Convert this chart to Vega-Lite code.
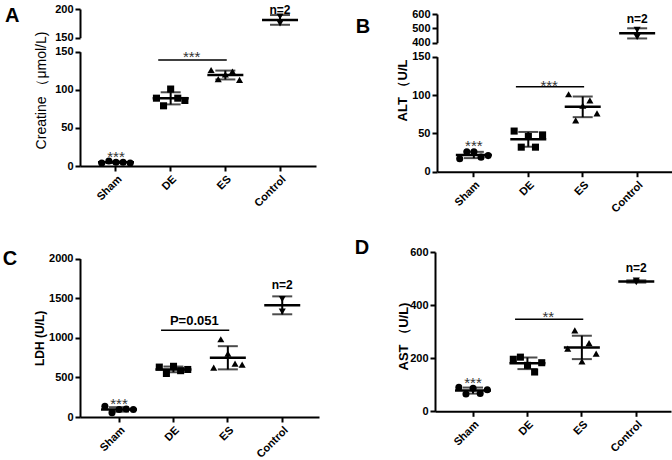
{
"$schema": "https://vega.github.io/schema/vega-lite/v6.json",
"padding": {"left": 2, "top": 3, "right": 0, "bottom": 0},
"datasets": {
"pts": [
{"panel":"A","group":"Sham","value":4},{"panel":"A","group":"Sham","value":6.5},{"panel":"A","group":"Sham","value":5},{"panel":"A","group":"Sham","value":5},{"panel":"A","group":"Sham","value":4},
{"panel":"A","group":"DE","value":89},{"panel":"A","group":"DE","value":79},{"panel":"A","group":"DE","value":101},{"panel":"A","group":"DE","value":89},{"panel":"A","group":"DE","value":86},
{"panel":"A","group":"ES","value":126},{"panel":"A","group":"ES","value":114},{"panel":"A","group":"ES","value":120},{"panel":"A","group":"ES","value":124},{"panel":"A","group":"ES","value":113},
{"panel":"A","group":"Control","value":187},{"panel":"A","group":"Control","value":175},
{"panel":"B","group":"Sham","value":17},{"panel":"B","group":"Sham","value":26},{"panel":"B","group":"Sham","value":26},{"panel":"B","group":"Sham","value":19},{"panel":"B","group":"Sham","value":21},
{"panel":"B","group":"DE","value":53},{"panel":"B","group":"DE","value":32},{"panel":"B","group":"DE","value":46},{"panel":"B","group":"DE","value":32},{"panel":"B","group":"DE","value":48},
{"panel":"B","group":"ES","value":101},{"panel":"B","group":"ES","value":67},{"panel":"B","group":"ES","value":86},{"panel":"B","group":"ES","value":93},{"panel":"B","group":"ES","value":76},
{"panel":"B","group":"Control","value":490},{"panel":"B","group":"Control","value":440},
{"panel":"C","group":"Sham","value":135},{"panel":"C","group":"Sham","value":55},{"panel":"C","group":"Sham","value":95},{"panel":"C","group":"Sham","value":100},{"panel":"C","group":"Sham","value":95},
{"panel":"C","group":"DE","value":630},{"panel":"C","group":"DE","value":550},{"panel":"C","group":"DE","value":640},{"panel":"C","group":"DE","value":585},{"panel":"C","group":"DE","value":600},
{"panel":"C","group":"ES","value":623},{"panel":"C","group":"ES","value":981},{"panel":"C","group":"ES","value":800},{"panel":"C","group":"ES","value":674},{"panel":"C","group":"ES","value":661},
{"panel":"C","group":"Control","value":1490},{"panel":"C","group":"Control","value":1330},
{"panel":"D","group":"Sham","value":90},{"panel":"D","group":"Sham","value":65},{"panel":"D","group":"Sham","value":87},{"panel":"D","group":"Sham","value":67},{"panel":"D","group":"Sham","value":81},
{"panel":"D","group":"DE","value":196},{"panel":"D","group":"DE","value":204},{"panel":"D","group":"DE","value":173},{"panel":"D","group":"DE","value":148},{"panel":"D","group":"DE","value":183},
{"panel":"D","group":"ES","value":236},{"panel":"D","group":"ES","value":305},{"panel":"D","group":"ES","value":188},{"panel":"D","group":"ES","value":257},{"panel":"D","group":"ES","value":217},
{"panel":"D","group":"Control","value":486},{"panel":"D","group":"Control","value":492}
],
"ann": [
{"panel":"A","kind":"sham","x1":"Sham","y":11.3,"label":"***"},
{"panel":"A","kind":"sig","x1":"DE","x2":"ES","y":139,"ty":142.5,"label":"***"},
{"panel":"A","kind":"n","x1":"Control","y":199,"label":"n=2"},
{"panel":"B","kind":"sham","x1":"Sham","y":33.8,"label":"***"},
{"panel":"B","kind":"sig","x1":"DE","x2":"ES","y":110.9,"ty":111.3,"label":"***"},
{"panel":"B","kind":"n","x1":"Control","y":567,"label":"n=2"},
{"panel":"C","kind":"sham","x1":"Sham","y":168,"label":"***"},
{"panel":"C","kind":"sig","x1":"DE","x2":"ES","y":1095,"ty":1212,"label":"P=0.051"},
{"panel":"C","kind":"n","x1":"Control","y":1667,"label":"n=2"},
{"panel":"D","kind":"sham","x1":"Sham","y":107.6,"label":"***"},
{"panel":"D","kind":"sig","x1":"DE","x2":"ES","y":346.5,"ty":356.6,"label":"**"},
{"panel":"D","kind":"n","x1":"Control","y":540,"label":"n=2"}
]
},
"spacing": 23,
"vconcat": [
{"hconcat": [
{
"width": 236, "height": 157,
"title": {"text": "A", "offset": -23},
"resolve": {"scale": {"y": "independent"}, "axis": {"y": "independent"}},
"layer": [
{"layer": [
{"data": {"name": "pts"}, "transform": [{"filter": "datum.panel==='A' && datum.group!=='Control'"}, {"window": [{"op": "row_number", "as": "rank"}], "groupby": ["group"]}],
 "mark": {"type": "point", "filled": true, "opacity": 1, "color": "black", "size": 50},
 "encoding": {
  "x": {"field": "group", "type": "nominal", "scale": {"type":"band","domain":["Sham","DE","ES","Control"],"paddingInner":0.35,"paddingOuter":0.333,"align":0.5}, "axis": {"title": null}},
  "xOffset": {"field": "rank", "type": "ordinal", "scale": {"domain": [1,2,3,4,5]}},
  "y": {"field": "value", "type": "quantitative", "title": "Creatine （μmol/L)", "scale": {"domain": [0,150], "range": [157,42.7], "nice": false, "zero": false}, "axis": {"orient": "left", "values": [0,50,100,150], "titleFontWeight": "normal", "titleFontSize": 14, "titleX": -31.5, "titleY": 81}},
  "shape": {"field": "group", "type": "nominal", "scale": {"domain": ["Sham","DE","ES","Control"], "range": ["circle","square","triangle-up","triangle-down"]}, "legend": null}}},
{"data": {"name": "pts"}, "transform": [{"filter": "datum.panel==='A' && datum.group!=='Control'"}],
 "mark": {"type": "errorbar", "extent": "stdev", "ticks": {"size": 20, "thickness": 2, "color": "black"}, "rule": {"strokeWidth": 2, "color": "black"}},
 "encoding": {"x": {"field": "group", "type": "nominal", "scale": {"type":"band","domain":["Sham","DE","ES","Control"],"paddingInner":0.35,"paddingOuter":0.333,"align":0.5}}, "y": {"field": "value", "type": "quantitative", "title": "Creatine （μmol/L)"}}},
{"data": {"name": "pts"}, "transform": [{"filter": "datum.panel==='A' && datum.group!=='Control'"}],
 "mark": {"type": "tick", "size": 36, "thickness": 2.5, "color": "black"},
 "encoding": {"x": {"field": "group", "type": "nominal", "scale": {"type":"band","domain":["Sham","DE","ES","Control"],"paddingInner":0.35,"paddingOuter":0.333,"align":0.5}}, "y": {"aggregate": "mean", "field": "value", "type": "quantitative", "title": "Creatine （μmol/L)"}}},
{"data": {"name": "ann"}, "transform": [{"filter": "datum.panel==='A' && datum.kind==='sham'"}],
 "mark": {"type": "text", "fontSize": 15, "color": "#333", "baseline": "middle"},
 "encoding": {"x": {"field": "x1", "type": "nominal", "scale": {"type":"band","domain":["Sham","DE","ES","Control"],"paddingInner":0.35,"paddingOuter":0.333,"align":0.5}}, "y": {"field": "y", "type": "quantitative", "title": "Creatine （μmol/L)"}, "text": {"field": "label"}}},
{"data": {"name": "ann"}, "transform": [{"filter": "datum.panel==='A' && datum.kind==='sig'"}],
 "mark": {"type": "rule", "color": "black", "strokeWidth": 1.5},
 "encoding": {"x": {"field": "x1", "type": "nominal", "bandPosition": 0.15, "scale": {"type":"band","domain":["Sham","DE","ES","Control"],"paddingInner":0.35,"paddingOuter":0.333,"align":0.5}}, "x2": {"field": "x2", "bandPosition": 0.54}, "y": {"field": "y", "type": "quantitative", "title": "Creatine （μmol/L)"}}},
{"data": {"name": "ann"}, "transform": [{"filter": "datum.panel==='A' && datum.kind==='sig'"}],
 "mark": {"type": "text", "fontSize": 15, "color": "#333", "baseline": "middle"},
 "encoding": {"x": {"field": "x1", "type": "nominal", "bandPosition": 1.09, "scale": {"type":"band","domain":["Sham","DE","ES","Control"],"paddingInner":0.35,"paddingOuter":0.333,"align":0.5}}, "y": {"field": "ty", "type": "quantitative", "title": "Creatine （μmol/L)"}, "text": {"field": "label"}}}
]},
{"layer": [
{"data": {"name": "pts"}, "transform": [{"filter": "datum.panel==='A' && datum.group==='Control'"}],
 "mark": {"type": "point", "filled": true, "opacity": 1, "color": "black", "size": 50},
 "encoding": {
  "x": {"field": "group", "type": "nominal", "scale": {"type":"band","domain":["Sham","DE","ES","Control"],"paddingInner":0.35,"paddingOuter":0.333,"align":0.5}},
  "y": {"field": "value", "type": "quantitative", "scale": {"domain": [150,200], "range": [28.7,0], "nice": false, "zero": false}, "axis": {"orient": "left", "values": [150,200], "title": null}},
  "shape": {"field": "group", "type": "nominal", "scale": {"domain": ["Sham","DE","ES","Control"], "range": ["circle","square","triangle-up","triangle-down"]}, "legend": null}}},
{"data": {"name": "pts"}, "transform": [{"filter": "datum.panel==='A' && datum.group==='Control'"}],
 "mark": {"type": "errorbar", "extent": "stdev", "ticks": {"size": 20, "thickness": 2, "color": "black"}, "rule": {"strokeWidth": 2, "color": "black"}},
 "encoding": {"x": {"field": "group", "type": "nominal", "scale": {"type":"band","domain":["Sham","DE","ES","Control"],"paddingInner":0.35,"paddingOuter":0.333,"align":0.5}}, "y": {"field": "value", "type": "quantitative"}}},
{"data": {"name": "pts"}, "transform": [{"filter": "datum.panel==='A' && datum.group==='Control'"}],
 "mark": {"type": "tick", "size": 36, "thickness": 2.5, "color": "black"},
 "encoding": {"x": {"field": "group", "type": "nominal", "scale": {"type":"band","domain":["Sham","DE","ES","Control"],"paddingInner":0.35,"paddingOuter":0.333,"align":0.5}}, "y": {"aggregate": "mean", "field": "value", "type": "quantitative"}}},
{"data": {"name": "ann"}, "transform": [{"filter": "datum.panel==='A' && datum.kind==='n'"}],
 "mark": {"type": "text", "fontSize": 12, "fontWeight": "bold", "color": "black", "baseline": "middle"},
 "encoding": {"x": {"field": "x1", "type": "nominal", "scale": {"type":"band","domain":["Sham","DE","ES","Control"],"paddingInner":0.35,"paddingOuter":0.333,"align":0.5}}, "y": {"field": "y", "type": "quantitative"}, "text": {"field": "label"}}}
]}
]
},
{
"width": 237, "height": 162.7,
"title": {"text": "B", "dx": -81.3, "offset": -29},
"resolve": {"scale": {"y": "independent"}, "axis": {"y": "independent"}},
"layer": [
{"layer": [
{"data": {"name": "pts"}, "transform": [{"filter": "datum.panel==='B' && datum.group!=='Control'"}, {"window": [{"op": "row_number", "as": "rank"}], "groupby": ["group"]}],
 "mark": {"type": "point", "filled": true, "opacity": 1, "color": "black", "size": 50},
 "encoding": {
  "x": {"field": "group", "type": "nominal", "scale": {"type":"band","domain":["Sham","DE","ES","Control"],"paddingInner":0.35,"paddingOuter":0.352,"align":0.5}, "axis": {"title": null}},
  "xOffset": {"field": "rank", "type": "ordinal", "scale": {"domain": [1,2,3,4,5]}},
  "y": {"field": "value", "type": "quantitative", "title": "ALT （U/L", "scale": {"domain": [0,150], "range": [162.7,47.7], "nice": false, "zero": false}, "axis": {"orient": "left", "values": [0,50,100,150], "titleX": -27.5, "titleY": 81}},
  "shape": {"field": "group", "type": "nominal", "scale": {"domain": ["Sham","DE","ES","Control"], "range": ["circle","square","triangle-up","triangle-down"]}, "legend": null}}},
{"data": {"name": "pts"}, "transform": [{"filter": "datum.panel==='B' && datum.group!=='Control'"}],
 "mark": {"type": "errorbar", "extent": "stdev", "ticks": {"size": 20, "thickness": 2, "color": "black"}, "rule": {"strokeWidth": 2, "color": "black"}},
 "encoding": {"x": {"field": "group", "type": "nominal", "scale": {"type":"band","domain":["Sham","DE","ES","Control"],"paddingInner":0.35,"paddingOuter":0.352,"align":0.5}}, "y": {"field": "value", "type": "quantitative", "title": "ALT （U/L"}}},
{"data": {"name": "pts"}, "transform": [{"filter": "datum.panel==='B' && datum.group!=='Control'"}],
 "mark": {"type": "tick", "size": 36, "thickness": 2.5, "color": "black"},
 "encoding": {"x": {"field": "group", "type": "nominal", "scale": {"type":"band","domain":["Sham","DE","ES","Control"],"paddingInner":0.35,"paddingOuter":0.352,"align":0.5}}, "y": {"aggregate": "mean", "field": "value", "type": "quantitative", "title": "ALT （U/L"}}},
{"data": {"name": "ann"}, "transform": [{"filter": "datum.panel==='B' && datum.kind==='sham'"}],
 "mark": {"type": "text", "fontSize": 15, "color": "#333", "baseline": "middle"},
 "encoding": {"x": {"field": "x1", "type": "nominal", "scale": {"type":"band","domain":["Sham","DE","ES","Control"],"paddingInner":0.35,"paddingOuter":0.352,"align":0.5}}, "y": {"field": "y", "type": "quantitative", "title": "ALT （U/L"}, "text": {"field": "label"}}},
{"data": {"name": "ann"}, "transform": [{"filter": "datum.panel==='B' && datum.kind==='sig'"}],
 "mark": {"type": "rule", "color": "black", "strokeWidth": 1.5},
 "encoding": {"x": {"field": "x1", "type": "nominal", "bandPosition": 0.15, "scale": {"type":"band","domain":["Sham","DE","ES","Control"],"paddingInner":0.35,"paddingOuter":0.352,"align":0.5}}, "x2": {"field": "x2", "bandPosition": 0.54}, "y": {"field": "y", "type": "quantitative", "title": "ALT （U/L"}}},
{"data": {"name": "ann"}, "transform": [{"filter": "datum.panel==='B' && datum.kind==='sig'"}],
 "mark": {"type": "text", "fontSize": 15, "color": "#333", "baseline": "middle"},
 "encoding": {"x": {"field": "x1", "type": "nominal", "bandPosition": 1.09, "scale": {"type":"band","domain":["Sham","DE","ES","Control"],"paddingInner":0.35,"paddingOuter":0.352,"align":0.5}}, "y": {"field": "ty", "type": "quantitative", "title": "ALT （U/L"}, "text": {"field": "label"}}}
]},
{"layer": [
{"data": {"name": "pts"}, "transform": [{"filter": "datum.panel==='B' && datum.group==='Control'"}],
 "mark": {"type": "point", "filled": true, "opacity": 1, "color": "black", "size": 50},
 "encoding": {
  "x": {"field": "group", "type": "nominal", "scale": {"type":"band","domain":["Sham","DE","ES","Control"],"paddingInner":0.35,"paddingOuter":0.352,"align":0.5}},
  "y": {"field": "value", "type": "quantitative", "scale": {"domain": [400,600], "range": [33.7,5], "nice": false, "zero": false}, "axis": {"orient": "left", "values": [400,500,600], "title": null}},
  "shape": {"field": "group", "type": "nominal", "scale": {"domain": ["Sham","DE","ES","Control"], "range": ["circle","square","triangle-up","triangle-down"]}, "legend": null}}},
{"data": {"name": "pts"}, "transform": [{"filter": "datum.panel==='B' && datum.group==='Control'"}],
 "mark": {"type": "errorbar", "extent": "stdev", "ticks": {"size": 20, "thickness": 2, "color": "black"}, "rule": {"strokeWidth": 2, "color": "black"}},
 "encoding": {"x": {"field": "group", "type": "nominal", "scale": {"type":"band","domain":["Sham","DE","ES","Control"],"paddingInner":0.35,"paddingOuter":0.352,"align":0.5}}, "y": {"field": "value", "type": "quantitative"}}},
{"data": {"name": "pts"}, "transform": [{"filter": "datum.panel==='B' && datum.group==='Control'"}],
 "mark": {"type": "tick", "size": 36, "thickness": 2.5, "color": "black"},
 "encoding": {"x": {"field": "group", "type": "nominal", "scale": {"type":"band","domain":["Sham","DE","ES","Control"],"paddingInner":0.35,"paddingOuter":0.352,"align":0.5}}, "y": {"aggregate": "mean", "field": "value", "type": "quantitative"}}},
{"data": {"name": "ann"}, "transform": [{"filter": "datum.panel==='B' && datum.kind==='n'"}],
 "mark": {"type": "text", "fontSize": 12, "fontWeight": "bold", "color": "black", "baseline": "middle"},
 "encoding": {"x": {"field": "x1", "type": "nominal", "scale": {"type":"band","domain":["Sham","DE","ES","Control"],"paddingInner":0.35,"paddingOuter":0.352,"align":0.5}}, "y": {"field": "y", "type": "quantitative"}, "text": {"field": "label"}}}
]}
]
}
], "spacing": 39},
{"hconcat": [
{
"width": 239, "height": 165,
"title": {"text": "C", "dx": -77.3, "offset": -16.7},
"layer": [
{"data": {"name": "pts"}, "transform": [{"filter": "datum.panel==='C' && datum.group!=='Control'"}, {"window": [{"op": "row_number", "as": "rank"}], "groupby": ["group"]}],
 "mark": {"type": "point", "filled": true, "opacity": 1, "color": "black", "size": 50},
 "encoding": {
  "x": {"field": "group", "type": "nominal", "scale": {"type":"band","domain":["Sham","DE","ES","Control"],"paddingInner":0.35,"paddingOuter":0.3715,"align":0.528}, "axis": {"title": null}},
  "xOffset": {"field": "rank", "type": "ordinal", "scale": {"domain": [1,2,3,4,5]}},
  "y": {"field": "value", "type": "quantitative", "title": "LDH (U/L)", "scale": {"domain": [0,2000], "range": [165,6.6], "nice": false, "zero": false}, "axis": {"orient": "left", "values": [0,500,1000,1500,2000], "format": "d", "titleFontSize": 12, "titleX": -34, "titleY": 85.8}},
  "shape": {"field": "group", "type": "nominal", "scale": {"domain": ["Sham","DE","ES","Control"], "range": ["circle","square","triangle-up","triangle-down"]}, "legend": null}}},
{"data": {"name": "pts"}, "transform": [{"filter": "datum.panel==='C' && datum.group==='Control'"}],
 "mark": {"type": "point", "filled": true, "opacity": 1, "color": "black", "size": 50},
 "encoding": {
  "x": {"field": "group", "type": "nominal", "scale": {"type":"band","domain":["Sham","DE","ES","Control"],"paddingInner":0.35,"paddingOuter":0.3715,"align":0.528}},
  "y": {"field": "value", "type": "quantitative", "title": "LDH (U/L)"},
  "shape": {"field": "group", "type": "nominal", "scale": {"domain": ["Sham","DE","ES","Control"], "range": ["circle","square","triangle-up","triangle-down"]}, "legend": null}}},
{"data": {"name": "pts"}, "transform": [{"filter": "datum.panel==='C'"}],
 "mark": {"type": "errorbar", "extent": "stdev", "ticks": {"size": 20, "thickness": 2, "color": "black"}, "rule": {"strokeWidth": 2, "color": "black"}},
 "encoding": {"x": {"field": "group", "type": "nominal", "scale": {"type":"band","domain":["Sham","DE","ES","Control"],"paddingInner":0.35,"paddingOuter":0.3715,"align":0.528}}, "y": {"field": "value", "type": "quantitative", "title": "LDH (U/L)"}}},
{"data": {"name": "pts"}, "transform": [{"filter": "datum.panel==='C'"}],
 "mark": {"type": "tick", "size": 36, "thickness": 2.5, "color": "black"},
 "encoding": {"x": {"field": "group", "type": "nominal", "scale": {"type":"band","domain":["Sham","DE","ES","Control"],"paddingInner":0.35,"paddingOuter":0.3715,"align":0.528}}, "y": {"aggregate": "mean", "field": "value", "type": "quantitative", "title": "LDH (U/L)"}}},
{"data": {"name": "ann"}, "transform": [{"filter": "datum.panel==='C' && datum.kind==='sham'"}],
 "mark": {"type": "text", "fontSize": 15, "color": "#333", "baseline": "middle"},
 "encoding": {"x": {"field": "x1", "type": "nominal", "scale": {"type":"band","domain":["Sham","DE","ES","Control"],"paddingInner":0.35,"paddingOuter":0.3715,"align":0.528}}, "y": {"field": "y", "type": "quantitative", "title": "LDH (U/L)"}, "text": {"field": "label"}}},
{"data": {"name": "ann"}, "transform": [{"filter": "datum.panel==='C' && datum.kind==='sig'"}],
 "mark": {"type": "rule", "color": "black", "strokeWidth": 1.5},
 "encoding": {"x": {"field": "x1", "type": "nominal", "bandPosition": 0.15, "scale": {"type":"band","domain":["Sham","DE","ES","Control"],"paddingInner":0.35,"paddingOuter":0.3715,"align":0.528}}, "x2": {"field": "x2", "bandPosition": 0.54}, "y": {"field": "y", "type": "quantitative", "title": "LDH (U/L)"}}},
{"data": {"name": "ann"}, "transform": [{"filter": "datum.panel==='C' && datum.kind==='sig'"}],
 "mark": {"type": "text", "fontSize": 13, "fontWeight": "bold", "color": "black", "baseline": "middle"},
 "encoding": {"x": {"field": "x1", "type": "nominal", "bandPosition": 1.09, "scale": {"type":"band","domain":["Sham","DE","ES","Control"],"paddingInner":0.35,"paddingOuter":0.3715,"align":0.528}}, "y": {"field": "ty", "type": "quantitative", "title": "LDH (U/L)"}, "text": {"field": "label"}}},
{"data": {"name": "ann"}, "transform": [{"filter": "datum.panel==='C' && datum.kind==='n'"}],
 "mark": {"type": "text", "fontSize": 12, "fontWeight": "bold", "color": "black", "baseline": "middle"},
 "encoding": {"x": {"field": "x1", "type": "nominal", "scale": {"type":"band","domain":["Sham","DE","ES","Control"],"paddingInner":0.35,"paddingOuter":0.3715,"align":0.528}}, "y": {"field": "y", "type": "quantitative", "title": "LDH (U/L)"}, "text": {"field": "label"}}}
]
},
{
"width": 236, "height": 159.3,
"title": {"text": "D", "dx": -80.3, "offset": -12.3},
"layer": [
{"data": {"name": "pts"}, "transform": [{"filter": "datum.panel==='D' && datum.group!=='Control'"}, {"window": [{"op": "row_number", "as": "rank"}], "groupby": ["group"]}],
 "mark": {"type": "point", "filled": true, "opacity": 1, "color": "black", "size": 50},
 "encoding": {
  "x": {"field": "group", "type": "nominal", "scale": {"type":"band","domain":["Sham","DE","ES","Control"],"paddingInner":0.35,"paddingOuter":0.343,"align":0.544}, "axis": {"title": null}},
  "xOffset": {"field": "rank", "type": "ordinal", "scale": {"domain": [1,2,3,4,5]}},
  "y": {"field": "value", "type": "quantitative", "title": "AST （U/L)", "scale": {"domain": [0,600], "nice": false, "zero": false}, "axis": {"orient": "left", "values": [0,200,400,600], "titleX": -25, "titleY": 84}},
  "shape": {"field": "group", "type": "nominal", "scale": {"domain": ["Sham","DE","ES","Control"], "range": ["circle","square","triangle-up","triangle-down"]}, "legend": null}}},
{"data": {"name": "pts"}, "transform": [{"filter": "datum.panel==='D' && datum.group==='Control'"}],
 "mark": {"type": "point", "filled": true, "opacity": 1, "color": "black", "size": 50},
 "encoding": {
  "x": {"field": "group", "type": "nominal", "scale": {"type":"band","domain":["Sham","DE","ES","Control"],"paddingInner":0.35,"paddingOuter":0.343,"align":0.544}},
  "y": {"field": "value", "type": "quantitative", "title": "AST （U/L)"},
  "shape": {"field": "group", "type": "nominal", "scale": {"domain": ["Sham","DE","ES","Control"], "range": ["circle","square","triangle-up","triangle-down"]}, "legend": null}}},
{"data": {"name": "pts"}, "transform": [{"filter": "datum.panel==='D'"}],
 "mark": {"type": "errorbar", "extent": "stdev", "ticks": {"size": 20, "thickness": 2, "color": "black"}, "rule": {"strokeWidth": 2, "color": "black"}},
 "encoding": {"x": {"field": "group", "type": "nominal", "scale": {"type":"band","domain":["Sham","DE","ES","Control"],"paddingInner":0.35,"paddingOuter":0.343,"align":0.544}}, "y": {"field": "value", "type": "quantitative", "title": "AST （U/L)"}}},
{"data": {"name": "pts"}, "transform": [{"filter": "datum.panel==='D'"}],
 "mark": {"type": "tick", "size": 36, "thickness": 2.5, "color": "black"},
 "encoding": {"x": {"field": "group", "type": "nominal", "scale": {"type":"band","domain":["Sham","DE","ES","Control"],"paddingInner":0.35,"paddingOuter":0.343,"align":0.544}}, "y": {"aggregate": "mean", "field": "value", "type": "quantitative", "title": "AST （U/L)"}}},
{"data": {"name": "ann"}, "transform": [{"filter": "datum.panel==='D' && datum.kind==='sham'"}],
 "mark": {"type": "text", "fontSize": 15, "color": "#333", "baseline": "middle"},
 "encoding": {"x": {"field": "x1", "type": "nominal", "scale": {"type":"band","domain":["Sham","DE","ES","Control"],"paddingInner":0.35,"paddingOuter":0.343,"align":0.544}}, "y": {"field": "y", "type": "quantitative", "title": "AST （U/L)"}, "text": {"field": "label"}}},
{"data": {"name": "ann"}, "transform": [{"filter": "datum.panel==='D' && datum.kind==='sig'"}],
 "mark": {"type": "rule", "color": "black", "strokeWidth": 1.5},
 "encoding": {"x": {"field": "x1", "type": "nominal", "bandPosition": 0.15, "scale": {"type":"band","domain":["Sham","DE","ES","Control"],"paddingInner":0.35,"paddingOuter":0.343,"align":0.544}}, "x2": {"field": "x2", "bandPosition": 0.54}, "y": {"field": "y", "type": "quantitative", "title": "AST （U/L)"}}},
{"data": {"name": "ann"}, "transform": [{"filter": "datum.panel==='D' && datum.kind==='sig'"}],
 "mark": {"type": "text", "fontSize": 15, "color": "#333", "baseline": "middle"},
 "encoding": {"x": {"field": "x1", "type": "nominal", "bandPosition": 1.09, "scale": {"type":"band","domain":["Sham","DE","ES","Control"],"paddingInner":0.35,"paddingOuter":0.343,"align":0.544}}, "y": {"field": "ty", "type": "quantitative", "title": "AST （U/L)"}, "text": {"field": "label"}}},
{"data": {"name": "ann"}, "transform": [{"filter": "datum.panel==='D' && datum.kind==='n'"}],
 "mark": {"type": "text", "fontSize": 12, "fontWeight": "bold", "color": "black", "baseline": "middle"},
 "encoding": {"x": {"field": "x1", "type": "nominal", "scale": {"type":"band","domain":["Sham","DE","ES","Control"],"paddingInner":0.35,"paddingOuter":0.343,"align":0.544}}, "y": {"field": "y", "type": "quantitative", "title": "AST （U/L)"}, "text": {"field": "label"}}}
]
}
], "spacing": 35}
],
"config": {
"font": "Liberation Sans",
"view": {"stroke": null},
"axis": {"grid": false, "domainColor": "black", "domainWidth": 2, "tickColor": "black", "tickWidth": 2, "tickSize": 5, "labelFont": "Liberation Sans", "labelFontSize": 11, "labelFontWeight": "bold", "labelColor": "black", "labelPadding": 2, "titleFont": "Liberation Sans", "titleColor": "black", "titleFontWeight": "bold", "titleFontSize": 13},
"axisX": {"labelAngle": -45, "labelAlign": "right", "labelBaseline": "top"},
"title": {"fontSize": 20, "fontWeight": "bold", "anchor": "start", "frame": "group", "color": "black", "font": "Liberation Sans", "offset": 0, "dx": -75}
}
}
